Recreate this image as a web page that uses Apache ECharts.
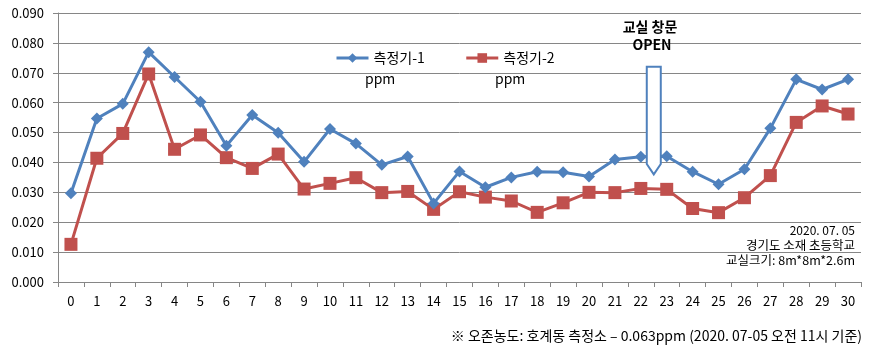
<!DOCTYPE html>
<html><head><meta charset="utf-8">
<script src="https://cdn.jsdelivr.net/npm/echarts@6/dist/echarts.min.js"></script>
<style>html,body{margin:0;padding:0;background:#fff}#c{width:871px;height:360px}</style>
</head><body><div id="c"></div>
<script>
const categories = ['0','1','2','3','4','5','6','7','8','9','10','11','12','13','14','15','16','17','18','19','20','21','22','23','24','25','26','27','28','29','30'];
const sensor1 = [0.0297,0.0547,0.0596,0.0769,0.0686,0.0603,0.0456,0.0559,0.0499,0.0402,0.0512,0.0463,0.0392,0.0420,0.0263,0.0370,0.0317,0.0350,0.0369,0.0367,0.0353,0.0410,0.0419,0.0421,0.0369,0.0327,0.0377,0.0514,0.0678,0.0644,0.0678];
const sensor2 = [0.0126,0.0414,0.0497,0.0696,0.0444,0.0492,0.0416,0.0380,0.0428,0.0311,0.0330,0.0349,0.0299,0.0303,0.0243,0.0302,0.0284,0.0271,0.0233,0.0265,0.0300,0.0299,0.0313,0.0310,0.0246,0.0232,0.0282,0.0356,0.0534,0.0589,0.0562];
const seriesNames = ['측정기-1','측정기-2'];
const yTicks = {min:0, max:0.09, step:0.01};
const arrowSpan = {fromCat: 22, toCat: 23, top: 0.072, bodyBottom: 0.0395, tip: 0.036};

const FONT = '"Noto Sans CJK KR", "Noto Sans", sans-serif';
const chart = echarts.init(document.getElementById('c'));
chart.setOption({
  animation:false,
  textStyle:{fontFamily:FONT},
  grid:{left:58, right:10, top:13, bottom:78},
  legend:{
    left:330, top:46, itemWidth:32, itemHeight:12, itemGap:40,
    lineStyle:{width:3},
    textStyle:{fontFamily:FONT, fontSize:14, color:'#000'},
    data:seriesNames
  },
  xAxis:{
    type:'category', data:categories, boundaryGap:true,
    axisLine:{lineStyle:{color:'#868686', width:1}},
    axisTick:{show:true, length:5, lineStyle:{color:'#868686'}},
    axisLabel:{color:'#000', fontSize:13, margin:13, fontFamily:FONT}
  },
  yAxis:{
    type:'value', min:yTicks.min, max:yTicks.max, interval:yTicks.step,
    axisLine:{show:true, lineStyle:{color:'#868686'}},
    axisTick:{show:true, length:5, lineStyle:{color:'#868686'}},
    axisLabel:{color:'#000', fontSize:13, margin:14, fontFamily:FONT, formatter:v=>v.toFixed(3)},
    splitLine:{lineStyle:{color:'#868686', width:1}}
  },
  series:[
    {name:seriesNames[0], type:'line', data:sensor1, symbol:'diamond', symbolSize:12,
     lineStyle:{color:'#4F81BD', width:3}, itemStyle:{color:'#4F81BD'}, z:3},
    {name:seriesNames[1], type:'line', data:sensor2, symbol:'rect', symbolSize:13,
     lineStyle:{color:'#C0504D', width:3}, itemStyle:{color:'#C0504D'}, z:2}
  ]
});

function px(cat, val){ return chart.convertToPixel({gridIndex:0}, [cat, val]); }
const a = px(arrowSpan.fromCat, arrowSpan.top);
const b = px(arrowSpan.toCat, arrowSpan.top);
const midX = (a[0]+b[0])/2;
const halfW = 7;
const yTop = a[1];
const yBody = px(arrowSpan.fromCat, arrowSpan.bodyBottom)[1];
const yTip = px(arrowSpan.fromCat, arrowSpan.tip)[1];

chart.setOption({
  graphic:[
    {type:'polygon', z:10, shape:{points:[[midX-halfW,yTop],[midX+halfW,yTop],[midX+halfW,yBody],[midX,yTip],[midX-halfW,yBody]]},
     style:{fill:'#fff', stroke:'#4F81BD', lineWidth:2}},
    {type:'text', z:11, x:650, y:20, style:{text:'교실 창문', font:'bold 14px '+FONT, fill:'#000', align:'center'}},
    {type:'text', z:11, x:652, y:38, style:{text:'OPEN', font:'bold 14px '+FONT, fill:'#000', align:'center'}},
    {type:'text', z:11, left:365, top:72, style:{text:'ppm', font:'14px '+FONT, fill:'#000'}},
    {type:'text', z:11, left:495, top:72, style:{text:'ppm', font:'14px '+FONT, fill:'#000'}},
    {type:'text', z:11, right:16, top:224, style:{text:'2020. 07. 05', font:'12px '+FONT, fill:'#000', align:'right'}},
    {type:'text', z:11, right:16, top:239, style:{text:'경기도 소재 초등학교', font:'12.5px '+FONT, fill:'#000', align:'right'}},
    {type:'text', z:11, right:16, top:254, style:{text:'교실크기: 8m*8m*2.6m', font:'12.5px '+FONT, fill:'#000', align:'right'}},
    {type:'text', z:11, right:9, top:329, style:{text:'※ 오존농도: 호계동 측정소 – 0.063ppm (2020. 07-05 오전 11시 기준)', font:'14px '+FONT, fill:'#000', align:'right'}}
  ]
});
</script></body></html>
